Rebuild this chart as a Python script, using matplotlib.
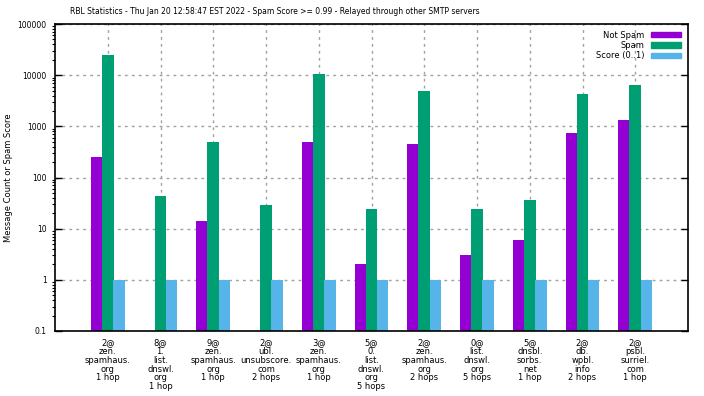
import numpy as np
import matplotlib.pyplot as plt
from matplotlib.ticker import FixedLocator, FuncFormatter, LogLocator, NullFormatter
from matplotlib.patches import Patch

plt.rcParams['font.family'] = ['DejaVu Sans']

# data
hosts = ["2@\nzen.\nspamhaus.\norg\n1 hop",
         "8@\n1.\nlist.\ndnswl.\norg\n1 hop",
         "9@\nzen.\nspamhaus.\norg\n1 hop",
         "2@\nubl.\nunsubscore.\ncom\n2 hops",
         "3@\nzen.\nspamhaus.\norg\n1 hop",
         "5@\n0.\nlist.\ndnswl.\norg\n5 hops",
         "2@\nzen.\nspamhaus.\norg\n2 hops",
         "0@\nlist.\ndnswl.\norg\n5 hops",
         "5@\ndnsbl.\nsorbs.\nnet\n1 hop",
         "2@\ndb.\nwpbl.\ninfo\n2 hops",
         "2@\npsbl.\nsurriel.\ncom\n1 hop"]
not_spam = [257, 0, 14, 0, 490, 2, 446, 3, 6, 735, 1330]
spam = [24600, 44, 505, 29.5, 10600, 23.8, 4900, 23.8, 37, 4270, 6440]
score = [1, 1, 1, 1, 1, 1, 1, 1, 1, 1, 1]

purple = "#9400d3"
green = "#009e73"
blue = "#56b4e9"
fs = 6

fig = plt.figure(figsize=(7.04, 3.96), dpi=100)
ax = fig.add_axes([55 / 704, 65 / 396, 633 / 704, 307 / 396])

x = np.arange(len(hosts))
w = 0.22
ns = np.array(not_spam, dtype=float)
ns[ns <= 0] = np.nan
ax.bar(x - 0.21, ns, w, color=purple, bottom=0.01)
ax.bar(x, spam, w, color=green, bottom=0.01)
ax.bar(x + 0.21, score, w, color=blue, bottom=0.01)

ax.set_yscale("log")
ax.set_ylim(0.1, 100000)
ax.set_xlim(-1, 11)
ax.yaxis.set_major_locator(FixedLocator([0.1, 1, 10, 100, 1000, 10000, 100000]))
ax.yaxis.set_major_formatter(FuncFormatter(lambda v, p: "%g" % v))
ax.yaxis.set_minor_locator(LogLocator(base=10, subs=np.arange(2, 10)))
ax.yaxis.set_minor_formatter(NullFormatter())
ax.set_xticks(x)
ax.set_xticklabels(hosts, fontsize=fs, linespacing=0.98)

ax.tick_params(axis="both", direction="in", top=True, right=True, width=1)
ax.tick_params(axis="y", which="major", length=5, pad=6, labelsize=5.5)
ax.tick_params(axis="y", which="minor", length=2.5, width=0.8)
ax.tick_params(axis="x", length=0, pad=5)
ax.set_axisbelow(True)
ax.grid(True, which="major", color="#a0a0a0", linestyle=(0, (2, 3)), linewidth=1)
for s in ax.spines.values():
    s.set_linewidth(1.2)

ax.set_ylabel("Message Count or Spam Score", fontsize=fs)
ax.yaxis.set_label_coords(-0.066, 0.5)
fig.text(275 / 704, 1 - 12 / 396,
         "RBL Statistics - Thu Jan 20 12:58:47 EST 2022 - Spam Score >= 0.99 - Relayed through other SMTP servers",
         ha="center", va="center", fontsize=5.5)

handles = [Patch(color=purple), Patch(color=green), Patch(color=blue)]
ax.legend(handles, ["Not Spam", "Spam", "Score (0..1)"], loc="upper right",
          frameon=False, markerfirst=False, fontsize=fs, handlelength=3.6,
          handleheight=0.6, labelspacing=0.15, borderaxespad=0.4, handletextpad=0.8)

fig.savefig("out.png", dpi=100)
